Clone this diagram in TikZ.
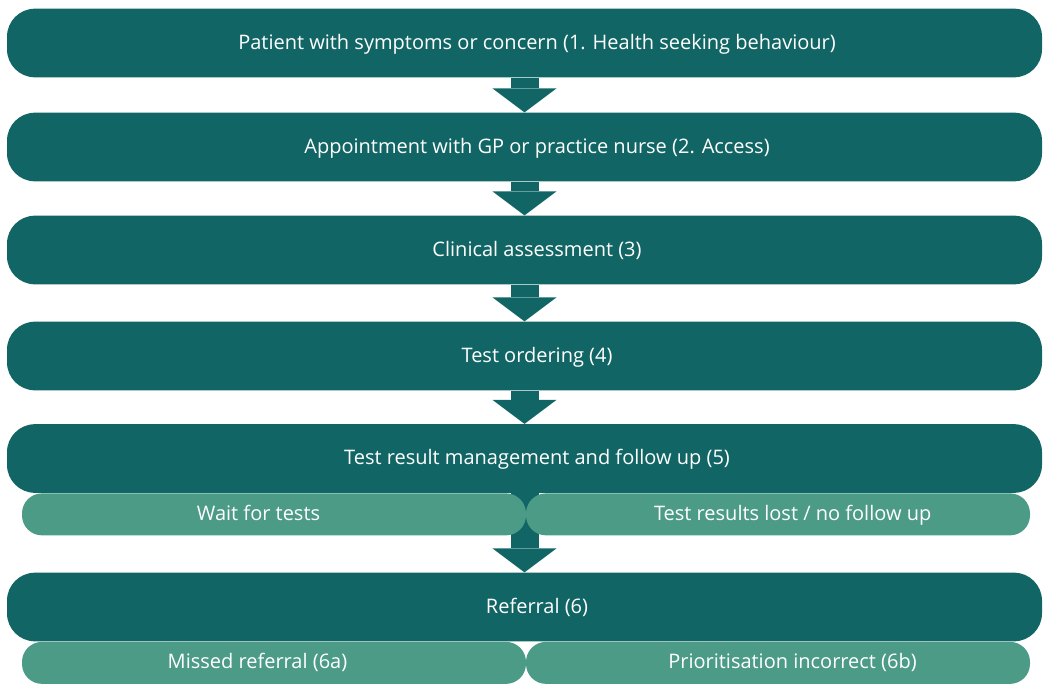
\documentclass[tikz,border=0pt]{standalone}
\usepackage{fontspec}
\setmainfont{Open Sans}
\usetikzlibrary{arrows.meta, positioning}

\definecolor{darkteal}{HTML}{116665}
\definecolor{lightteal}{HTML}{4B9B87}

\begin{document}
\begin{tikzpicture}[x=0.75pt, y=-0.75pt,
  stage/.style={rectangle, rounded corners=21pt, minimum width=776.25pt, minimum height=51.5pt, fill=darkteal, inner sep=0pt},
  substage/.style={rectangle, rounded corners=15pt, minimum width=378pt, minimum height=31.5pt, fill=lightteal, inner sep=0pt},
  caption/.style={text=white, font=\fontsize{15}{18}\selectfont, text height=11pt, text depth=2pt},
  arrow/.style={draw=darkteal, line width=21pt, -{Triangle[width=48pt, length=18pt, line width=0pt]}}]

  \useasboundingbox (0,0) rectangle (1043,686);

  % Nodes
  \node (seeking) [stage, label={[caption, xshift=9.4pt]center:Patient with symptoms or concern (1. Health seeking behaviour)}] at (524.5,43) {};
  \node (access) [stage, label={[caption, xshift=9.4pt]center:Appointment with GP or practice nurse (2. Access)}] at (524.5,147) {};
  \node (assessment) [stage, label={[caption, xshift=9.4pt]center:Clinical assessment (3)}] at (524.5,250) {};
  \node (ordering) [stage, label={[caption, xshift=9.4pt]center:Test ordering (4)}] at (524.5,356) {};
  \node (followup) [stage, label={[caption, xshift=9.4pt]center:Test result management and follow up (5)}] at (524.5,458.5) {};
  \node (referral) [stage, label={[caption, xshift=9.4pt]center:Referral (6)}] at (524.5,607) {};

  % Arrows
  \draw [arrow] (seeking) -- (access);
  \draw [arrow] (access) -- (assessment);
  \draw [arrow] (assessment) -- (ordering);
  \draw [arrow] (ordering) -- (followup);
  \draw [arrow] (followup) -- (referral);

  % Sub-steps under the last two stages
  \node (waittests) [substage, anchor=north west, label={[caption, xshift=-11.6pt]center:Wait for tests}] at ([xshift=11.25pt]followup.south west) {};
  \node (lostresults) [substage, anchor=north east, label={[caption, xshift=11pt]center:Test results lost / no follow up}] at ([xshift=-9pt]followup.south east) {};
  \node (missed) [substage, anchor=north west, label={[caption, xshift=-12.4pt]center:Missed referral (6a)}] at ([xshift=11.25pt]referral.south west) {};
  \node (prioritisation) [substage, anchor=north east, label={[caption, xshift=10.9pt]center:Prioritisation incorrect (6b)}] at ([xshift=-9pt]referral.south east) {};

\end{tikzpicture}
\end{document}
